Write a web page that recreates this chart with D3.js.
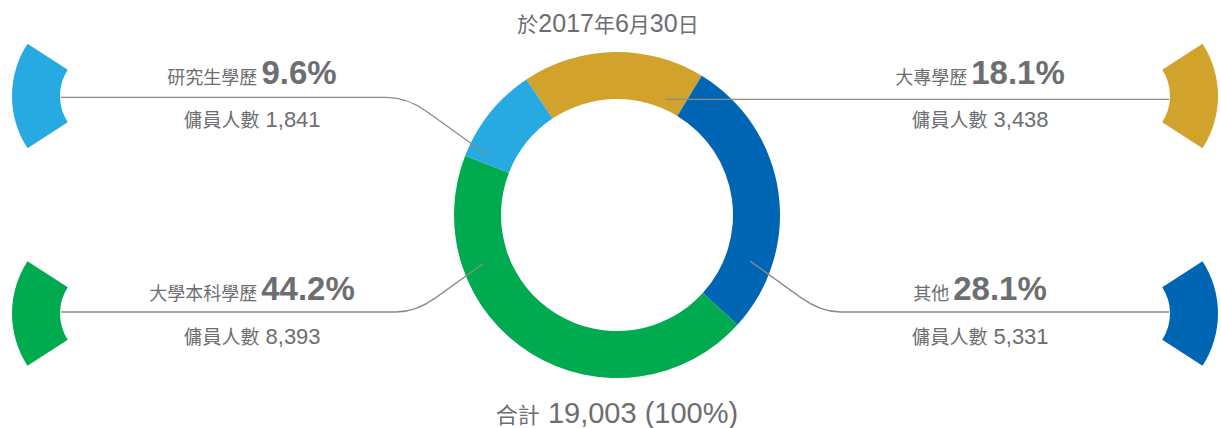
<!DOCTYPE html>
<html>
<head>
<meta charset="utf-8">
<script src="https://cdn.jsdelivr.net/npm/d3@7"></script>
<style>
  body { margin: 0; background: #fff; }
  text { font-family: "Liberation Sans", Arial, "Noto Sans CJK TC", sans-serif; fill: #6d6e71; }
  .cjk { font-family: "Noto Sans CJK TC", sans-serif; }
</style>
</head>
<body>
<svg id="drawing_region"></svg>
<script>
// data, in the clockwise order of the ring
const categories = ['大專學歷', '其他', '大學本科學歷', '研究生學歷'];
const counts = [3438, 5331, 8393, 1841];
const percents = ['18.1%', '28.1%', '44.2%', '9.6%'];
const countLabels = ['3,438', '5,331', '8,393', '1,841'];
const titleParts = ['於', '2017', '年', '6', '月', '30', '日'];
const totalLabel = ['合計', ' 19,003 (100%)'];
const countPrefix = '傭員人數';

let config = {
    parent: '#drawing_region',
    width: 1221,
    height: 428,
    cx: 617, cy: 215,
    r_outer: 163, r_inner: 116,
    start: -33.8 * Math.PI / 180
};

const colors = d3.scaleOrdinal()
    .domain(categories)
    .range(['#d1a32d', '#0066b3', '#00aa4f', '#27a9e1']);

// where each label sits: side -1 = left, 1 = right; row 0 = top, 1 = bottom
const slots = {
    '大專學歷':   {side: 1,  row: 0, frac: 0.87, r: 125.5, lineY: 99},
    '其他':       {side: 1,  row: 1, frac: 0.77, r: 141,   lineY: 312},
    '大學本科學歷': {side: -1, row: 1, frac: 0.74, r: 143,   lineY: 312},
    '研究生學歷':  {side: -1, row: 0, frac: 0.10, r: 143,   lineY: 97.3}
};

const rows = [{wedgeY: 96, base1: 83.5, base2: 127}, {wedgeY: 313.5, base1: 300, base2: 344}];
const sides = {'-1': {wedgeX: 108, textX: 252, lineEnd: 61}, '1': {wedgeX: 1122, textX: 980, lineEnd: 1169}};

const data = categories.map((c, i) => ({cat: c, count: counts[i], pct: percents[i], label: countLabels[i]}));

const svg = d3.select(config.parent)
    .attr('width', config.width)
    .attr('height', config.height);

const pie = d3.pie()
    .sort(null)
    .value(d => d.count)
    .startAngle(config.start)
    .endAngle(config.start + 2 * Math.PI);

const arc = d3.arc()
    .innerRadius(config.r_inner)
    .outerRadius(config.r_outer);

const arcs = pie(data);

const ring = svg.append('g')
    .attr('transform', `translate(${config.cx}, ${config.cy})`);

ring.selectAll('path')
    .data(arcs)
    .enter()
    .append('path')
    .attr('d', arc)
    .attr('fill', d => colors(d.data.cat));

// side wedges
const wedge = d3.arc().innerRadius(48).outerRadius(96);
const half = 33 * Math.PI / 180;

svg.selectAll('.wedge')
    .data(arcs)
    .enter()
    .append('path')
    .attr('class', 'wedge')
    .attr('transform', d => {
        const s = slots[d.data.cat];
        return `translate(${sides[s.side].wedgeX}, ${rows[s.row].wedgeY})`;
    })
    .attr('d', d => {
        const mid = slots[d.data.cat].side * Math.PI / 2;
        return wedge({startAngle: mid - half, endAngle: mid + half});
    })
    .attr('fill', d => colors(d.data.cat));

// leader lines
function leader(d) {
    const s = slots[d.data.cat];
    const a = d.startAngle + (d.endAngle - d.startAngle) * s.frac;
    const ax = config.cx + Math.sin(a) * s.r;
    const ay = config.cy - Math.cos(a) * s.r;
    const Y = s.lineY;
    const xEnd = sides[s.side].lineEnd;
    const p = d3.path();
    p.moveTo(ax, ay);
    const dy = Y - ay;
    if (Math.abs(dy) < 3) {
        p.lineTo(xEnd, ay);
        return p.toString();
    }
    const slope = 0.72;
    const xm = ax + s.side * Math.abs(dy) / slope;
    const c = 20;
    p.lineTo(xm - s.side * c, Y - Math.sign(dy) * c * slope);
    p.quadraticCurveTo(xm, Y, xm + s.side * c, Y);
    p.lineTo(xEnd, Y);
    return p.toString();
}

svg.selectAll('.leader')
    .data(arcs)
    .enter()
    .append('path')
    .attr('class', 'leader')
    .attr('d', leader)
    .attr('fill', 'none')
    .attr('stroke', '#8c8c8c')
    .attr('stroke-width', 1.3);

// labels
arcs.forEach(d => {
    const s = slots[d.data.cat];
    const x = sides[s.side].textX;
    const t1 = svg.append('text')
        .attr('x', x).attr('y', rows[s.row].base1)
        .attr('text-anchor', 'middle');
    t1.append('tspan').attr('class', 'cjk').style('font-size', '18px').text(d.data.cat + ' ');
    t1.append('tspan').style('font-size', '33px').style('font-weight', 'bold').text(d.data.pct);

    const t2 = svg.append('text')
        .attr('x', x).attr('y', rows[s.row].base2)
        .attr('text-anchor', 'middle');
    t2.append('tspan').attr('class', 'cjk').style('font-size', '19px').text(countPrefix);
    t2.append('tspan').style('font-size', '22px').text(' ' + d.data.label);
});

// title
const title = svg.append('text')
    .attr('x', 608).attr('y', 32)
    .attr('text-anchor', 'middle');
titleParts.forEach(t => {
    const isNum = /\d/.test(t);
    title.append('tspan')
        .attr('class', isNum ? null : 'cjk')
        .style('font-size', isNum ? '25px' : '21px')
        .text(t);
});

// total
const total = svg.append('text')
    .attr('x', 617).attr('y', 423)
    .attr('text-anchor', 'middle');
total.append('tspan').attr('class', 'cjk').style('font-size', '22px').text(totalLabel[0]);
total.append('tspan').style('font-size', '29px').text(totalLabel[1]);
</script>
</body>
</html>
